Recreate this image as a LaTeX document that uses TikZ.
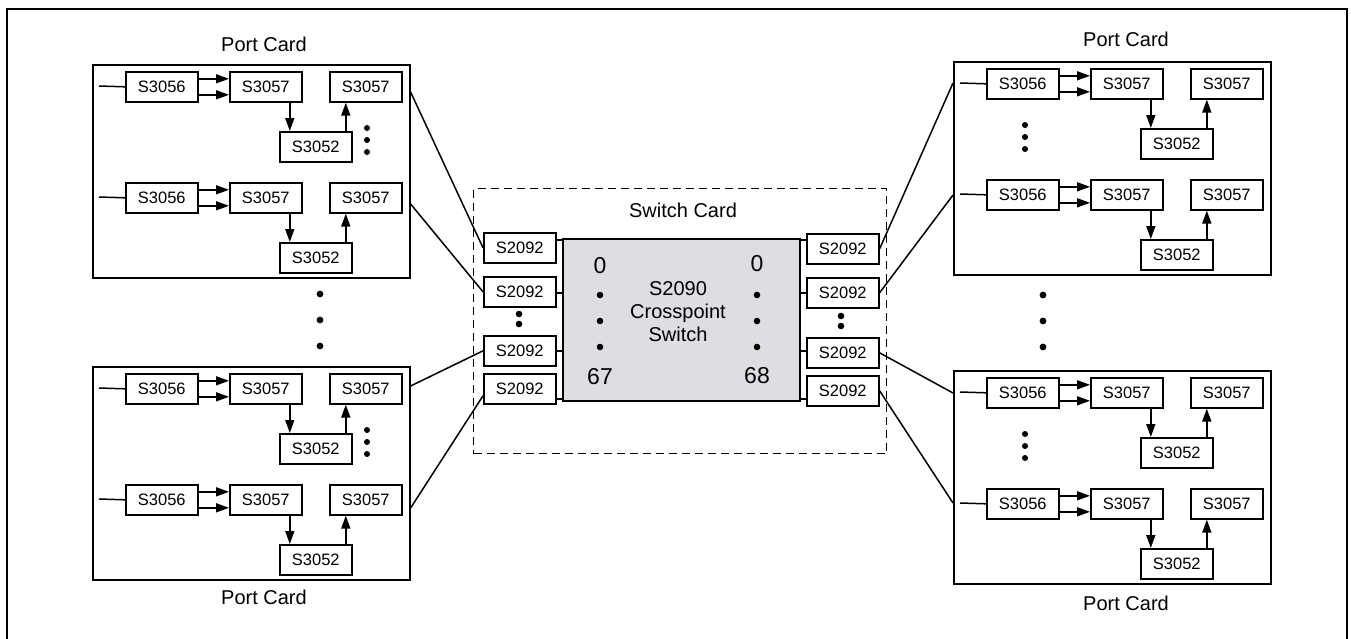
\documentclass[tikz,border=0pt]{standalone}
\usepackage{fontspec}
\setmainfont{Liberation Sans}
\usetikzlibrary{arrows.meta}
\definecolor{xpgray}{RGB}{221,222,225}
\tikzset{
 chip/.style={draw, line width=1.6pt, minimum width=72pt, minimum height=30pt, inner sep=0pt, anchor=north west, font=\fontsize{16.5}{18}\selectfont},
 card/.style={draw, line width=1.6pt, minimum width=317pt, minimum height=213pt, inner sep=0pt, anchor=north west},
 arr/.style={line width=1.5pt, -{Triangle[length=13pt,width=9pt]}},
 wire/.style={line width=1.5pt},
 lbl/.style={font=\fontsize{20}{23}\selectfont, inner sep=0pt},
 num/.style={font=\fontsize{23}{26}\selectfont, inner sep=0pt},
}
\newcommand{\pcard}[4]{%
 \begin{scope}[shift={(#2,#3)}]
 \node[card] (#1) at (0,0) {};
 \foreach \r/\dy in {1/0,2/111}{
  \coordinate (#1-in\r) at (7,22+\dy);
  \node[chip] (#1-\r-p) at (33,7+\dy) {S3056};
  \node[chip] (#1-\r-a) at (137,7+\dy) {S3057};
  \node[chip] (#1-\r-b) at (237,7+\dy) {S3057};
  \node[chip] (#1-\r-c) at (187,67+\dy) {S3052};
  \draw[wire] (#1-in\r) -- (#1-\r-p.west);
  \draw[arr] ([yshift=8pt]#1-\r-p.east) -- ([yshift=8pt]#1-\r-a.west);
  \draw[arr] ([yshift=-8pt]#1-\r-p.east) -- ([yshift=-8pt]#1-\r-a.west);
  \draw[arr] ([xshift=24pt]#1-\r-a.south) -- ([xshift=24pt]#1-\r-a.south |- #1-\r-c.north);
  \draw[arr] ([xshift=30pt]#1-\r-c.north) -- ([xshift=30pt]#1-\r-c.north |- #1-\r-b.south);
 }
 \foreach \yy in {64,76,88} \fill (#4,\yy) circle (3pt);
 \end{scope}}
\begin{document}
\begin{tikzpicture}[x=1pt,y=-1pt]
\useasboundingbox (0,0) rectangle (1351,638);
\draw[line width=2.8pt] (7,9) rectangle (1347,650);
\pcard{LT}{92}{64}{275}
\pcard{LB}{92}{366}{275}
\pcard{RT}{953}{61}{72}
\pcard{RB}{953}{370}{72}
\node[lbl] (LTl) at (264,44) {Port Card};
\node[lbl] (LBl) at (264,597) {Port Card};
\node[lbl] (RTl) at (1126,39) {Port Card};
\node[lbl] (RBl) at (1126,603) {Port Card};
\foreach \yy in {294,320,346} \fill (320,\yy) circle (3.4pt);
\foreach \yy in {295,321,347} \fill (1043,\yy) circle (3.4pt);
% switch card
\node[draw, dash pattern=on 8pt off 5pt, line width=1.4pt, minimum width=413pt, minimum height=265pt, anchor=north west, inner sep=0pt] (sw) at (473,188) {};
\node[lbl] (swl) at (683,210) {Switch Card};
\node[draw, fill=xpgray, line width=1.6pt, minimum width=237pt, minimum height=162pt, anchor=north west, inner sep=0pt] (xp) at (562,238) {};
\node[lbl, align=center] (xpl) at (678,312) {S2090\\Crosspoint\\Switch};
\node[num] (n0l) at (600,266) {0};
\node[num] (n67) at (600,377) {67};
\node[num] (n0r) at (757,264) {0};
\node[num] (n68) at (757,376) {68};
\foreach \yy in {295,321,347} {\fill (600,\yy) circle (3.3pt); \fill (757,\yy) circle (3.3pt);}
\node[chip] (L1) at (483,232) {S2092};
\node[chip] (L2) at (483,276) {S2092};
\node[chip] (L3) at (483,335) {S2092};
\node[chip] (L4) at (483,373) {S2092};
\node[chip] (R1) at (806,233) {S2092};
\node[chip] (R2) at (806,277) {S2092};
\node[chip] (R3) at (806,337) {S2092};
\node[chip] (R4) at (806,375) {S2092};
\fill (519,314) circle (3.3pt); \fill (519,324) circle (3.3pt);
\fill (841,316) circle (3.3pt); \fill (841,326) circle (3.3pt);
% stubs
\foreach \n/\yy in {1/240,2/293,3/351,4/399} {
 \draw[wire] (L\n.east |- 0,\yy) -- (xp.west |- 0,\yy);
 \draw[wire] (xp.east |- 0,\yy) -- (R\n.west |- 0,\yy);
}
% links to port cards
\draw[wire] (LT.east |- 0,92) -- (L1.west);
\draw[wire] (LT.east |- 0,204) -- (L2.west);
\draw[wire] (LB.east |- 0,386) -- (L3.west);
\draw[wire] (LB.east |- 0,508) -- ([yshift=-7pt]L4.west);
\draw[wire] (R1.east) -- (RT.west |- 0,83);
\draw[wire] (R2.east) -- (RT.west |- 0,195);
\draw[wire] (R3.east) -- (RB.west |- 0,393);
\draw[wire] (R4.east) -- (RB.west |- 0,503);
\end{tikzpicture}
\end{document}
